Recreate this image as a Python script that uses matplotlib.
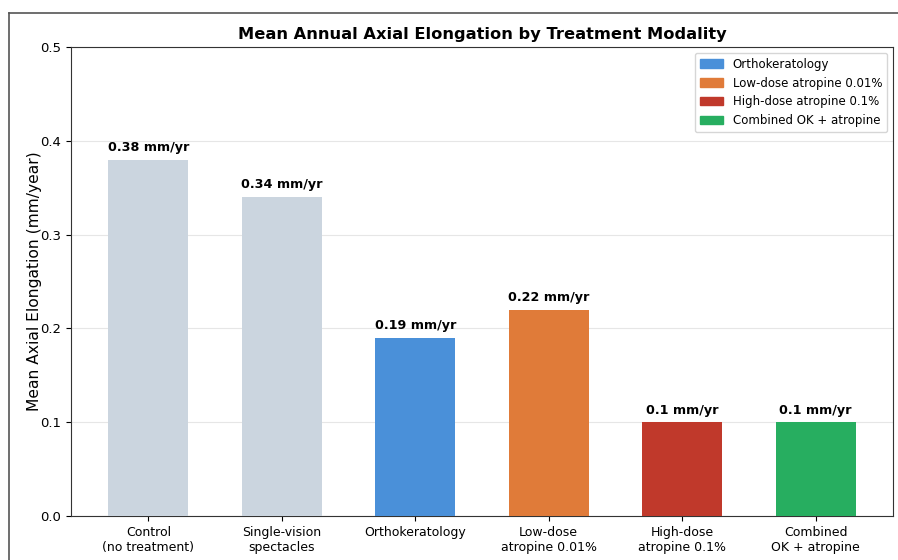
import matplotlib
matplotlib.use("Agg")
from matplotlib import pyplot as plt
from matplotlib.patches import Patch
from matplotlib.lines import Line2D

categories = ["Control\n(no treatment)", "Single-vision\nspectacles", "Orthokeratology",
              "Low-dose\natropine 0.01%", "High-dose\natropine 0.1%", "Combined\nOK + atropine"]
values = [0.38, 0.34, 0.19, 0.22, 0.1, 0.1]
colors = ["#cbd5df", "#cbd5df", "#4a90d9", "#e07b39", "#c0392b", "#27ae60"]
legend_labels = ["Orthokeratology", "Low-dose atropine 0.01%",
                 "High-dose atropine 0.1%", "Combined OK + atropine"]
legend_colors = ["#4a90d9", "#e07b39", "#c0392b", "#27ae60"]

fig = plt.figure(figsize=(8.98, 5.60), dpi=100)
ax = fig.add_axes([0.0791, 0.0786, 0.9153, 0.8374])

x = list(range(len(categories)))
bars = ax.bar(x, values, width=0.6, color=colors, zorder=3)
for b, v in zip(bars, values):
    ax.text(b.get_x() + b.get_width() / 2, v + 0.006, f"{v} mm/yr",
            ha="center", va="bottom", fontsize=9.2, fontweight="bold")

ax.set_xticks(x)
ax.set_xticklabels(categories, fontsize=9)
ax.set_ylim(0, 0.5)
ax.set_yticks([0.0, 0.1, 0.2, 0.3, 0.4, 0.5])
ax.tick_params(axis="y", labelsize=9.5)
ax.set_ylabel("Mean Axial Elongation (mm/year)", fontsize=11.2, labelpad=-1)
ax.set_title("Mean Annual Axial Elongation by Treatment Modality",
             fontsize=11.7, fontweight="bold", pad=6)
ax.yaxis.grid(True, color="#e6e6e6", linewidth=0.8, zorder=0)
ax.set_axisbelow(True)
for s in ax.spines.values():
    s.set_color("#333333")

handles = [Patch(color=c, label=l) for c, l in zip(legend_colors, legend_labels)]
ax.legend(handles=handles, loc="upper right", fontsize=8.5)

# outer frame of the figure (left and top edges)
fig.add_artist(Line2D([0.01, 0.01], [0.0, 0.977], color="#555555", linewidth=1.2,
                      transform=fig.transFigure))
fig.add_artist(Line2D([0.01, 1.0], [0.977, 0.977], color="#555555", linewidth=1.2,
                      transform=fig.transFigure))

fig.savefig("out.png", dpi=100)
